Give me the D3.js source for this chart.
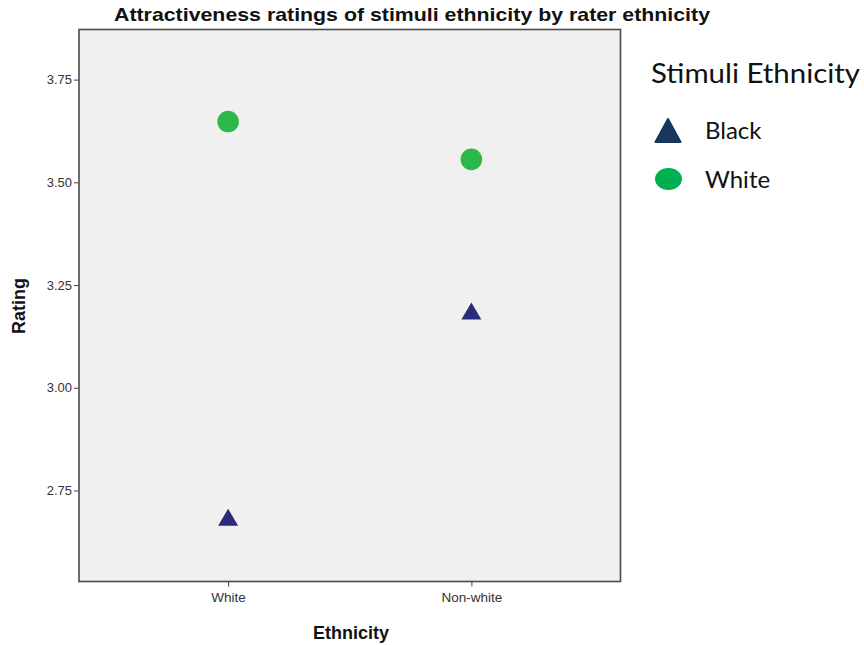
<!DOCTYPE html>
<html><head><meta charset="utf-8">
<script src="https://cdn.jsdelivr.net/npm/d3@7"></script>
<style>body{margin:0;background:#fff}svg{display:block}</style>
</head><body><svg id="c" width="864" height="645"></svg>
<script>
const categories = ["White", "Non-white"];
const blackStimuli = [2.685, 3.187];
const whiteStimuli = [3.648, 3.556];
const yTicks = [2.75, 3.00, 3.25, 3.50, 3.75];
const seriesNames = ["Black", "White"];

const svg = d3.select("#c");
const L = 79, T = 29.5, R = 620.5, B = 581.5;
const x = d3.scalePoint().domain(categories).range([L, R]).padding(0.613);
const y = d3.scaleLinear().domain([2.5285, 3.872]).range([B, T]);

svg.append("rect").attr("x", L).attr("y", T).attr("width", R - L).attr("height", B - T)
  .attr("fill", "#f0f0f0").attr("stroke", "#4a4a4a").attr("stroke-width", 1.6);

const yAxis = svg.append("g").attr("transform", `translate(${L},0)`)
  .call(d3.axisLeft(y).tickValues(yTicks).tickFormat(d3.format(".2f")).tickSize(5).tickPadding(2));
yAxis.select(".domain").remove();
yAxis.selectAll("line").attr("stroke", "#444");
yAxis.selectAll("text").attr("font-family", "Liberation Sans, Arial, sans-serif").attr("font-size", 13).attr("fill", "#333");

const xAxis = svg.append("g").attr("transform", `translate(0,${B})`)
  .call(d3.axisBottom(x).tickSize(5).tickPadding(6));
xAxis.select(".domain").remove();
xAxis.selectAll("line").attr("stroke", "#444");
xAxis.selectAll("text").attr("font-family", "Liberation Sans, Arial, sans-serif").attr("font-size", 13.5).attr("fill", "#333");

// title
svg.append("text").attr("x", 412).attr("y", 21).attr("text-anchor", "middle")
  .attr("font-family", "Liberation Sans Narrow, Liberation Sans, Arial, sans-serif")
  .attr("font-weight", "bold").attr("font-size", 18.5).attr("fill", "#111")
  .attr("textLength", 596).attr("lengthAdjust", "spacingAndGlyphs")
  .text("Attractiveness ratings of stimuli ethnicity by rater ethnicity");

svg.append("text").attr("x", 351).attr("y", 639).attr("text-anchor", "middle")
  .attr("font-family", "Liberation Sans, Arial, sans-serif").attr("font-weight", "bold")
  .attr("font-size", 18).attr("fill", "#111").text("Ethnicity");

svg.append("text").attr("transform", "translate(25,306) rotate(-90)").attr("text-anchor", "middle")
  .attr("font-family", "Liberation Sans, Arial, sans-serif").attr("font-weight", "bold")
  .attr("font-size", 18).attr("fill", "#111").text("Rating");

function tri(cx, cy, w, h) {
  return `M${cx},${cy - h / 2}L${cx + w / 2},${cy + h / 2}L${cx - w / 2},${cy + h / 2}Z`;
}

svg.append("g").selectAll("circle").data(categories).join("circle")
  .attr("cx", d => x(d)).attr("cy", (d, i) => y(whiteStimuli[i])).attr("r", 10.8)
  .attr("fill", "#2db84b");

svg.append("g").selectAll("path").data(categories).join("path")
  .attr("d", (d, i) => tri(x(d), y(blackStimuli[i]), 20, 17))
  .attr("fill", "#2b2b7c");

// legend
const lf = "Lato, Open Sans, sans-serif";
svg.append("text").attr("x", 651).attr("y", 83).attr("font-family", lf).attr("font-size", 26)
  .attr("fill", "#111").attr("textLength", 209).attr("lengthAdjust", "spacingAndGlyphs").text("Stimuli Ethnicity");
svg.append("path").attr("d", tri(668, 130.5, 25, 23)).attr("fill", "#17375e")
  .attr("stroke", "#17375e").attr("stroke-width", 2).attr("stroke-linejoin", "round");
svg.append("ellipse").attr("cx", 668.5).attr("cy", 179).attr("rx", 13.5).attr("ry", 11).attr("fill", "#00b050");
svg.append("text").attr("x", 705).attr("y", 139).attr("font-family", lf).attr("font-size", 24).attr("fill", "#111").text(seriesNames[0]);
svg.append("text").attr("x", 705).attr("y", 188).attr("font-family", lf).attr("font-size", 24).attr("fill", "#111").text(seriesNames[1]);
</script></body></html>
